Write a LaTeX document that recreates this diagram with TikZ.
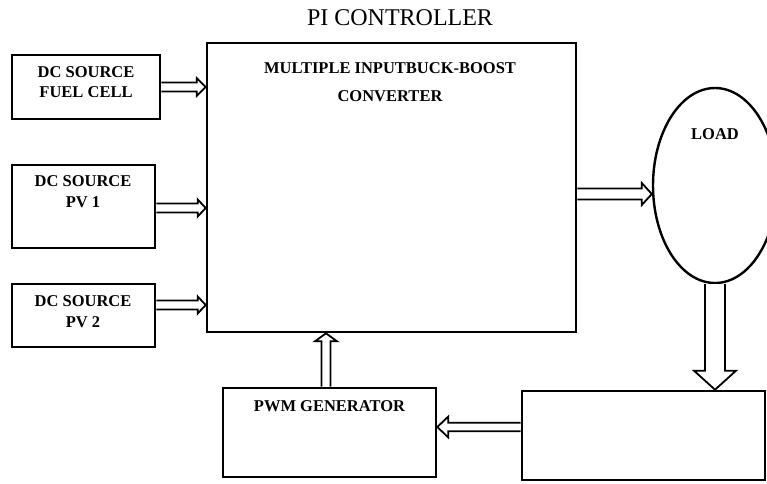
\documentclass[tikz,border=0pt]{standalone}
\usepackage{fontspec}
\setmainfont{Liberation Serif}
\usetikzlibrary{calc,shapes.geometric}
\newcommand\blockarrow[5]{%
  \coordinate (hb) at ($(#2)!#5!(#1)$);
  \draw[arr] ($(#1)!#3!90:(#2)$) -- ($(hb)!#3!90:(#2)$) -- ($(hb)!#4!90:(#2)$) -- (#2)
    -- ($(hb)!#4!-90:(#2)$) -- ($(hb)!#3!-90:(#2)$) -- ($(#1)!#3!-90:(#2)$);
}
\begin{document}
\begin{tikzpicture}[x=1pt,y=-1pt,
  box/.style={draw, line width=2.6pt, inner sep=0pt, rectangle},
  lbl/.style={font=\fontsize{16.5}{20}\selectfont\bfseries, inner sep=0pt},
  title/.style={font=\fontsize{24}{28}\selectfont, inner sep=0pt},
  arr/.style={line width=1.8pt, line join=miter, fill=white}]
\useasboundingbox (0,0) rectangle (767,483);
\clip (0,0) rectangle (767,483);

% boxes
\node[box, minimum width=148pt, minimum height=64pt] (fuel) at (86,87) {};
\node[box, minimum width=143pt, minimum height=83pt] (pv1) at (83.5,206.5) {};
\node[box, minimum width=143pt, minimum height=63pt] (pv2) at (83.5,315.5) {};
\node[box, minimum width=369pt, minimum height=289pt] (main) at (391.5,187.5) {};
\node[box, minimum width=213pt, minimum height=89pt] (pwm) at (329.5,432.5) {};
\node[box, minimum width=243pt, minimum height=89pt] (ctrl) at (643.5,435.5) {};
\node[ellipse, draw, line width=2.4pt, minimum width=124pt, minimum height=195pt, inner sep=0pt] (load) at (715,185.5) {};

% texts
\node[title, anchor=base] (ttl) at (400,25) {PI CONTROLLER};
\node[lbl, anchor=base] (f1) at (86,77) {DC SOURCE};
\node[lbl, anchor=base] (f2) at (86,97) {FUEL CELL};
\node[lbl, anchor=base] (p1a) at (83,186) {DC SOURCE};
\node[lbl, anchor=base] (p1b) at (83,207) {PV 1};
\node[lbl, anchor=base] (p2a) at (83,306) {DC SOURCE};
\node[lbl, anchor=base] (p2b) at (83,327) {PV 2};
\node[lbl, anchor=base] (m1) at (390,73) {MULTIPLE INPUTBUCK-BOOST};
\node[lbl, anchor=base] (m2) at (390,101) {CONVERTER};
\node[lbl, anchor=base] (ld) at (715,139) {LOAD};
\node[lbl, anchor=base] (pw) at (329.5,411) {PWM GENERATOR};

% connectors
\coordinate (a1s) at (fuel.east);
\coordinate (a1e) at (fuel.east -| main.west);
\blockarrow{a1s}{a1e}{4.5pt}{9pt}{9pt}

\coordinate (a2s) at ([yshift=-1.5pt]pv1.east);
\coordinate (a2e) at (a2s -| main.west);
\blockarrow{a2s}{a2e}{4.5pt}{8.5pt}{8pt}

\coordinate (a3s) at ([yshift=10.5pt]pv2.east);
\coordinate (a3e) at (a3s -| main.west);
\blockarrow{a3s}{a3e}{4.5pt}{8.5pt}{8pt}

\coordinate (a4s) at ([yshift=-6.5pt]main.east);
\coordinate (a4e) at (a4s -| load.west);
\blockarrow{a4s}{a4e}{5.5pt}{11pt}{10pt}

\coordinate (a5s) at ([xshift=-3.5pt]pwm.north);
\coordinate (a5e) at (a5s |- main.south);
\blockarrow{a5s}{a5e}{4.5pt}{11pt}{8pt}

\coordinate (a6s) at ([yshift=8.5pt]ctrl.west);
\coordinate (a6e) at (a6s -| pwm.east);
\blockarrow{a6s}{a6e}{4.2pt}{10.5pt}{11pt}

\coordinate (a7s) at (load.south);
\coordinate (a7e) at (load.south |- ctrl.north);
\blockarrow{a7s}{a7e}{10pt}{21pt}{19pt}
\end{tikzpicture}
\end{document}
